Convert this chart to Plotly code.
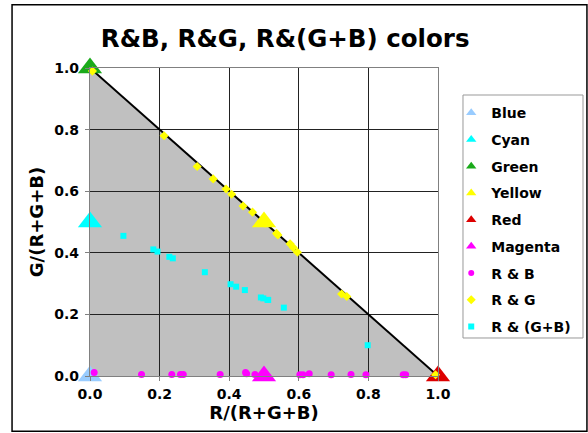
import plotly.graph_objects as go

# Primary colours (large triangles)
primary_names = ["Blue", "Cyan", "Green", "Yellow", "Red", "Magenta"]
primary_r = [0.0, 0.0, 0.0, 0.5, 1.0, 0.5]
primary_g = [0.0, 0.5, 1.0, 0.5, 0.0, 0.0]
primary_colors = ["#99ccff", "#00ffff", "#1aaa1a", "#ffff00", "#dd0000", "#ff00ff"]

# R & B mixes
rb_r = [0.012, 0.148, 0.235, 0.26, 0.268, 0.374, 0.447, 0.45, 0.474, 0.603, 0.612,
        0.63, 0.693, 0.75, 0.793, 0.9, 0.907]
rb_g = [0.011, 0.005, 0.005, 0.005, 0.005, 0.005, 0.011, 0.007, 0.005, 0.004, 0.004,
        0.007, 0.004, 0.005, 0.004, 0.004, 0.004]

# R & G mixes
rg_r = [0.007, 0.213, 0.308, 0.354, 0.391, 0.407, 0.44, 0.467, 0.496, 0.503, 0.536,
        0.54, 0.575, 0.584, 0.596, 0.723, 0.738, 0.993]
rg_g = [0.99, 0.78, 0.68, 0.64, 0.607, 0.59, 0.552, 0.532, 0.498, 0.496, 0.463,
        0.458, 0.429, 0.417, 0.402, 0.266, 0.258, 0.004]

# R & (G+B) mixes
rgb_r = [0.096, 0.182, 0.194, 0.228, 0.238, 0.33, 0.404, 0.42, 0.445, 0.491, 0.498,
         0.51, 0.512, 0.557, 0.798]
rgb_g = [0.455, 0.411, 0.404, 0.387, 0.382, 0.337, 0.298, 0.29, 0.279, 0.255, 0.252,
         0.247, 0.247, 0.222, 0.1]

mix_names = ["R & B", "R & G", "R & (G+B)"]
mix_colors = ["#ff00ff", "#ffff00", "#00ffff"]
mix_symbols = ["circle", "diamond", "square"]
mix_sizes = [7, 7, 6]
mix_legend_sizes = [6, 7, 6]

tick_vals = [0.0, 0.2, 0.4, 0.6, 0.8, 1.0]
tick_text = ["0.0", "0.2", "0.4", "0.6", "0.8", "1.0"]

FONT = "DejaVu Sans"

fig = go.Figure()

gi = primary_names.index("Green")
ri = primary_names.index("Red")
bi = primary_names.index("Blue")

# Diagonal boundary (Green -> Red)
fig.add_trace(go.Scatter(x=[primary_r[gi], primary_r[ri]], y=[primary_g[gi], primary_g[ri]],
                         mode="lines", line=dict(color="black", width=2),
                         showlegend=False, hoverinfo="skip", cliponaxis=False))

# Primary triangles
for n, r, g, c in zip(primary_names, primary_r, primary_g, primary_colors):
    fig.add_trace(go.Scatter(x=[r], y=[g], mode="markers", name=n, cliponaxis=False,
                             marker=dict(symbol="triangle-up", size=21, color=c,
                                         line=dict(width=0)),
                             showlegend=False))

mix_x = [rb_r, rg_r, rgb_r]
mix_y = [rb_g, rg_g, rgb_g]
for n, xs, ys, c, s, sz in zip(mix_names, mix_x, mix_y, mix_colors, mix_symbols, mix_sizes):
    fig.add_trace(go.Scatter(x=xs, y=ys, mode="markers", name=n, cliponaxis=False,
                             marker=dict(symbol=s, size=sz, color=c, line=dict(width=0)),
                             showlegend=False))

# Legend entries
for i, (n, c) in enumerate(zip(primary_names, primary_colors)):
    fig.add_trace(go.Scatter(x=[None], y=[None], mode="markers", name=n,
                             legendgroup="g%d" % i,
                             marker=dict(symbol="triangle-up", size=9, color=c)))
for i, (n, c, s, sz) in enumerate(zip(mix_names, mix_colors, mix_symbols, mix_legend_sizes)):
    fig.add_trace(go.Scatter(x=[None], y=[None], mode="markers", name=n,
                             legendgroup="m%d" % i,
                             marker=dict(symbol=s, size=sz, color=c)))

# Grey region under the diagonal, built from the corner primaries
corner_x = [primary_r[bi], primary_r[gi], primary_r[ri]]
corner_y = [primary_g[bi], primary_g[gi], primary_g[ri]]
path = "M %s %s L %s %s L %s %s Z" % (corner_x[0], corner_y[0], corner_x[1], corner_y[1],
                                      corner_x[2], corner_y[2])
fig.add_shape(type="path", path=path, xref="x", yref="y", fillcolor="#c0c0c0",
              line=dict(width=0), layer="below")

# Outer chart border
fig.add_shape(type="rect", xref="paper", yref="paper", x0=-0.224, x1=1.428,
              y0=-0.179, y1=1.205, line=dict(color="black", width=1.5))
# Legend frame
fig.add_shape(type="rect", xref="paper", yref="paper", x0=1.0718, x1=1.4167,
              y0=0.1234, y1=0.9123, line=dict(color="#999999", width=1))

axis_common = dict(range=[0, 1], tickvals=tick_vals, ticktext=tick_text,
                   showgrid=True, gridcolor="#222222", gridwidth=1.3,
                   zeroline=False, showline=True, linecolor="#808080", linewidth=1.3,
                   mirror=True, ticks="outside", ticklen=4, tickcolor="#808080",
                   tickfont=dict(family=FONT, size=14, color="black", weight="bold"))

fig.update_layout(
    width=588, height=433,
    margin=dict(l=90, r=150, t=68, b=57, autoexpand=False),
    paper_bgcolor="white", plot_bgcolor="white",
    font=dict(family=FONT, color="black"),
    title=dict(text="<b>R&B, R&G, R&(G+B) colors</b>", x=0.485, xanchor="center",
               y=0.912, yanchor="middle", font=dict(family=FONT, size=24.5, color="black")),
    xaxis=dict(axis_common, ticklabelstandoff=1,
               title=dict(text="<b>R/(R+G+B)</b>", standoff=1,
                          font=dict(family=FONT, size=18))),
    yaxis=dict(axis_common, ticklabelstandoff=3,
               title=dict(text="<b>G/(R+G+B)</b>", standoff=5,
                          font=dict(family=FONT, size=18))),
    legend=dict(x=1.038, xanchor="left", y=0.905, yanchor="top",
                borderwidth=0, bgcolor="rgba(0,0,0,0)",
                tracegroupgap=5.5,
                font=dict(family=FONT, size=14, color="black", weight="bold")),
    showlegend=True,
)

fig.write_html("out.html", config={"displayModeBar": False},
               post_script="document.body.style.margin='0';")
